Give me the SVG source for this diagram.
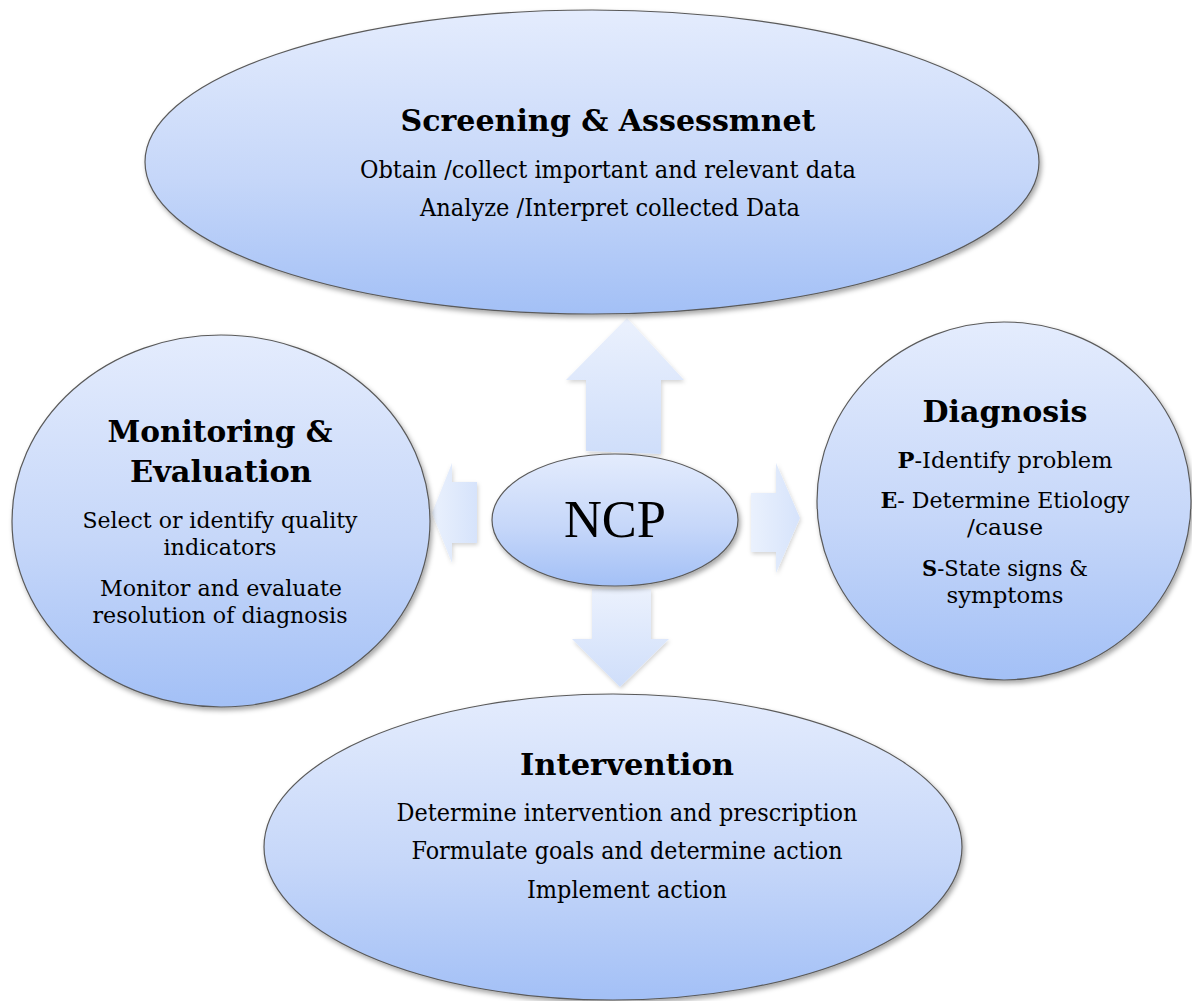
<svg xmlns="http://www.w3.org/2000/svg" width="1192" height="1001" viewBox="0 0 1192 1001">
<defs>
<linearGradient id="gNode" x1="0" y1="0" x2="0" y2="1">
<stop offset="0" stop-color="#e4ecfd"/>
<stop offset="0.55" stop-color="#c6d7f9"/>
<stop offset="1" stop-color="#a3c0f6"/>
</linearGradient>
<linearGradient id="gArrow" x1="0" y1="0" x2="0" y2="1">
<stop offset="0" stop-color="#ebf1fd"/>
<stop offset="1" stop-color="#cfdefa"/>
</linearGradient>
<linearGradient id="gArrowH" x1="0" y1="0" x2="1" y2="0">
<stop offset="0" stop-color="#eaf1fd"/>
<stop offset="1" stop-color="#d6e3fb"/>
</linearGradient>
<filter id="sh" x="-10%" y="-10%" width="120%" height="125%">
<feDropShadow dx="2" dy="3" stdDeviation="2.5" flood-color="#000" flood-opacity="0.35"/>
</filter>
<filter id="shA" x="-20%" y="-20%" width="140%" height="140%">
<feDropShadow dx="1" dy="2" stdDeviation="2" flood-color="#000" flood-opacity="0.18"/>
</filter>
</defs>
<style>
.node{fill:url(#gNode);stroke:#5a5a5a;stroke-width:1.2;filter:url(#sh)}
.arrow{fill:url(#gArrow);stroke:none;filter:url(#shA)}
.arrowh{fill:url(#gArrowH);stroke:none;filter:url(#shA)}
text{font-family:"DejaVu Serif","Liberation Serif",serif;fill:#000;text-anchor:middle}
.h{font-size:30px;font-weight:bold}
.b{font-size:22px}
.bl{font-size:24px}
.ncp{font-family:"Liberation Serif","Times New Roman",serif;font-size:52px}
</style>
<rect width="1192" height="1001" fill="#fff"/>
<g id="connectors">
<path class="arrow" d="M627,318 L684,380 L661,380 L661,454 L586,451 L586,380 L566,380 Z"/>
<path class="arrow" d="M592,589 L651,589 L651,639 L669,639 L620,687 L572,639 L592,639 Z"/>
<path class="arrowh" d="M477,482 L477,543 L452,543 L452,563 L432,513 L452,463 L452,482 Z"/>
<path class="arrowh" d="M751,493 L776,493 L776,463 L800,518 L776,573 L776,552 L751,552 Z"/>
</g>
<g id="node-screening">
<ellipse class="node" cx="592" cy="162" rx="447" ry="152"/>
<text class="h" x="608" y="131" textLength="415" lengthAdjust="spacingAndGlyphs">Screening &amp; Assessmnet</text>
<text class="bl" x="608" y="178" textLength="496" lengthAdjust="spacingAndGlyphs">Obtain /collect important and relevant data</text>
<text class="bl" x="610" y="216" textLength="380" lengthAdjust="spacingAndGlyphs">Analyze /Interpret collected Data</text>
</g>
<g id="node-monitoring">
<ellipse class="node" cx="221" cy="521" rx="209" ry="186"/>
<text class="h" x="220" y="442" textLength="225" lengthAdjust="spacingAndGlyphs">Monitoring &amp;</text>
<text class="h" x="221" y="482" textLength="182" lengthAdjust="spacingAndGlyphs">Evaluation</text>
<text class="b" x="220" y="528" textLength="275" lengthAdjust="spacingAndGlyphs">Select or identify quality</text>
<text class="b" x="220" y="555" textLength="113" lengthAdjust="spacingAndGlyphs">indicators</text>
<text class="b" x="221" y="596" textLength="242" lengthAdjust="spacingAndGlyphs">Monitor and evaluate</text>
<text class="b" x="220" y="623" textLength="255" lengthAdjust="spacingAndGlyphs">resolution of diagnosis</text>
</g>
<g id="node-diagnosis">
<ellipse class="node" cx="1004" cy="501" rx="187" ry="179"/>
<text class="h" x="1005" y="422" textLength="165" lengthAdjust="spacingAndGlyphs">Diagnosis</text>
<text class="b" x="1005" y="468" textLength="215" lengthAdjust="spacingAndGlyphs"><tspan font-weight="bold">P</tspan>-Identify problem</text>
<text class="b" x="1005" y="508" textLength="249" lengthAdjust="spacingAndGlyphs"><tspan font-weight="bold">E</tspan>- Determine Etiology</text>
<text class="b" x="1005" y="535" textLength="76" lengthAdjust="spacingAndGlyphs">/cause</text>
<text class="b" x="1005" y="576" textLength="166" lengthAdjust="spacingAndGlyphs"><tspan font-weight="bold">S</tspan>-State signs &amp;</text>
<text class="b" x="1005" y="603" textLength="117" lengthAdjust="spacingAndGlyphs">symptoms</text>
</g>
<g id="node-intervention">
<ellipse class="node" cx="613" cy="847" rx="349" ry="153"/>
<text class="h" x="627" y="775" textLength="214" lengthAdjust="spacingAndGlyphs">Intervention</text>
<text class="bl" x="627" y="821" textLength="461" lengthAdjust="spacingAndGlyphs">Determine intervention and prescription</text>
<text class="bl" x="627" y="859" textLength="431" lengthAdjust="spacingAndGlyphs">Formulate goals and determine action</text>
<text class="bl" x="627" y="898" textLength="200" lengthAdjust="spacingAndGlyphs">Implement action</text>
</g>
<g id="node-ncp">
<ellipse class="node" cx="615" cy="520" rx="123" ry="66"/>
<text class="ncp" x="615" y="537" textLength="102" lengthAdjust="spacingAndGlyphs">NCP</text>
</g>
</svg>
